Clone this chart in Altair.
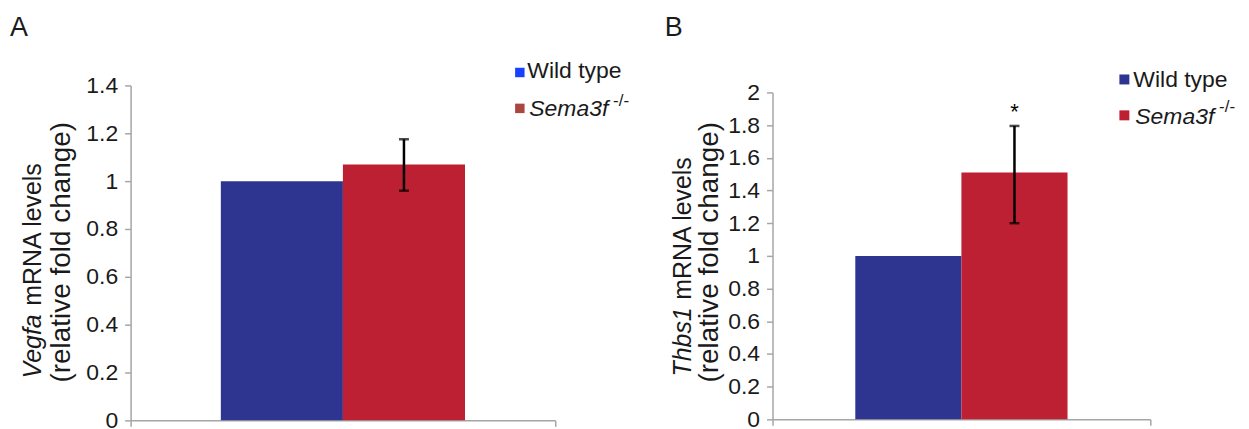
import altair as alt
import pandas as pd

# ---------------- data ----------------
genotypes = ["Wild type", "Sema3f -/-"]
bar_colors = ["#2E3591", "#BE2033"]

vegfa_mean = [1.0, 1.07]
vegfa_low = [None, 0.96]
vegfa_high = [None, 1.175]
vegfa_sig = ["", ""]
vegfa_ticks = [0, 0.2, 0.4, 0.6, 0.8, 1.0, 1.2, 1.4]

thbs1_mean = [1.0, 1.51]
thbs1_low = [None, 1.2]
thbs1_high = [None, 1.795]
thbs1_sig = ["", "*"]
thbs1_ticks = [0, 0.2, 0.4, 0.6, 0.8, 1.0, 1.2, 1.4, 1.6, 1.8, 2.0]

legend_colors_a = ["#1A40FF", "#A8463F"]
legend_colors_b = ["#2E3591", "#BE2033"]

FONT = "Liberation Sans"
GRAY = "#A6A6A6"
TXT = "#1A1A1A"


def label(text, x, y, size=23, style="normal", angle=0, align="left"):
    return alt.Chart(pd.DataFrame({"t": [text]})).mark_text(
        font=FONT, fontSize=size, fontStyle=style, angle=angle, align=align,
        baseline="alphabetic", color=TXT
    ).encode(x=alt.value(x), y=alt.value(y), text="t:N")


def square(color, x, y, size):
    return alt.Chart(pd.DataFrame({"t": [0]})).mark_square(
        size=size, color=color, opacity=1
    ).encode(x=alt.value(x), y=alt.value(y))


def panel(mean, low, high, sig, ticks, ymax, width, height, ytop, po, deco):
    df = pd.DataFrame({"cat": ["all", "all"], "genotype": genotypes,
                       "mean": mean, "low": low, "high": high, "sig": sig})
    yscale = alt.Scale(domain=[0, ymax], nice=False, zero=True, range=[height, ytop])
    yaxis = alt.Axis(values=ticks, format="~g", grid=False, tickSize=6,
                     tickColor=GRAY, tickWidth=1.5, domainColor=GRAY,
                     domainWidth=1.5, labelFont=FONT, labelFontSize=23,
                     labelColor=TXT, labelPadding=7, labelOverlap=False,
                     labelFlush=False)
    x = alt.X("cat:N", title=None, scale=alt.Scale(paddingInner=0, paddingOuter=0),
              axis=alt.Axis(labels=False, tickBand="extent", tickSize=6, tickColor=GRAY,
                            tickWidth=1.5, domainColor=GRAY, domainWidth=1.5))
    xo = alt.XOffset("genotype:N", sort=genotypes,
                     scale=alt.Scale(domain=genotypes, paddingInner=0, paddingOuter=po))

    def Y(field):
        return alt.Y(field, type="quantitative", title=None, scale=yscale, axis=yaxis)

    base = alt.Chart(df)
    bars = base.mark_bar().encode(
        x=x, xOffset=xo, y=Y("mean"),
        color=alt.Color("genotype:N", scale=alt.Scale(domain=genotypes, range=bar_colors),
                        legend=None))
    ebase = base.transform_filter("isValid(datum.low)")
    rule = ebase.mark_rule(color="black", strokeWidth=2.5).encode(
        x=x, xOffset=xo, y=Y("low"), y2="high:Q")
    cap_hi = ebase.mark_tick(color="black", thickness=2.5, size=10).encode(
        x=x, xOffset=xo, y=Y("high"))
    cap_lo = ebase.mark_tick(color="black", thickness=2.5, size=10).encode(
        x=x, xOffset=xo, y=Y("low"))
    star = ebase.mark_text(font=FONT, fontSize=22, dy=-14, color="black").encode(
        x=x, xOffset=xo, y=Y("high"), text="sig:N")
    return alt.layer(bars, rule, cap_hi, cap_lo, star, *deco).properties(
        width=width, height=height)


deco_a = [
    label("A", -121, -50, size=27),
    label("Vegfa", -90, 294, size=25, style="italic", angle=270),
    label("mRNA levels", -90, 221, size=25, angle=270),
    label("(relative    fold change)", -61, 298, size=28, angle=270),
    square(legend_colors_a[0], 390.5, -13, 90),
    label("Wild type", 398, -7),
    square(legend_colors_a[1], 390.5, 23, 90),
    label("Sema3f", 400, 31, style="italic"),
    label("-/-", 484, 21, size=17),
]

deco_b = [
    label("B", -108, -50, size=27),
    label("Thbs1", -82, 292, size=25, style="italic", angle=270),
    label("mRNA levels", -82, 215, size=25, angle=270),
    label("(relative    fold change)", -55, 298, size=28, angle=270),
    square(legend_colors_b[0], 353, -6, 100),
    label("Wild type", 362, 2),
    square(legend_colors_b[1], 353, 30, 100),
    label("Sema3f", 364, 39, style="italic"),
    label("-/-", 448, 27, size=17),
]

pa = panel(vegfa_mean, vegfa_low, vegfa_high, vegfa_sig, vegfa_ticks, 1.4, 426, 336, 0, 0.739, deco_a)
pb = panel(thbs1_mean, thbs1_low, thbs1_high, thbs1_sig, thbs1_ticks, 2.0, 379, 335, 7, 0.78, deco_b)

chart = alt.hconcat(pa, pb, spacing=35).resolve_scale(
    xOffset="independent", x="independent", y="independent"
).properties(
    padding={"left": 2, "top": 5, "right": 5, "bottom": 5}
).configure_view(stroke=None).configure_axis(labelOverlap=False)

chart.save("out.html", embed_options={"renderer": "svg", "actions": False})
